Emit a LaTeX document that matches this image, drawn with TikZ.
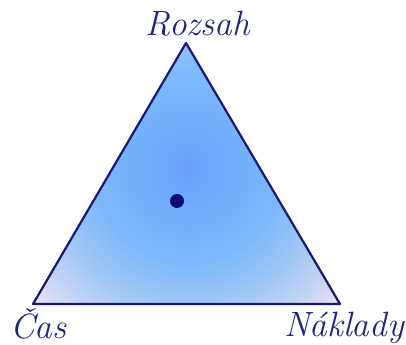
\documentclass[tikz,border=0pt]{standalone}
\usetikzlibrary{positioning, calc}

\definecolor{obrys}{RGB}{25,25,118}
\definecolor{tecka}{RGB}{12,12,112}
\definecolor{popis}{RGB}{35,35,125}
\definecolor{modra0}{RGB}{105,160,250}
\definecolor{modra1}{RGB}{112,172,250}
\definecolor{modra2}{RGB}{126,186,250}
\definecolor{modra3}{RGB}{162,200,245}
\definecolor{okraj}{RGB}{234,226,244}

\pgfdeclareradialshading{trojuhelnik}{\pgfpoint{0bp}{0bp}}{%
  color(0bp)=(modra0); color(4.5bp)=(modra1); color(11bp)=(modra2);
  color(16bp)=(modra3); color(23.5bp)=(okraj); color(50bp)=(okraj)}

\begin{document}
\begin{tikzpicture}[
    label/.style={font=\fontsize{30}{36}\selectfont\itshape, text=popis, inner sep=0pt},
    hrana/.style={draw=obrys, line width=1.9pt, line join=round},
    bod/.style={circle, fill=tecka, inner sep=0pt, minimum size=0.42cm}
]
\useasboundingbox (0,0) rectangle (12.18,10.32);

% vrcholy trojuhelniku
\coordinate (rozsah) at (5.58, 9.03);
\coordinate (cas) at (0.99, 1.20);
\coordinate (naklady) at (10.20, 1.20);

% vypln
\begin{scope}
\clip (rozsah) -- (cas) -- (naklady) -- cycle;
\shade[shading=trojuhelnik] (5.64, 5.28) circle (6.6cm);
\end{scope}
\draw[hrana] (rozsah) -- (cas) -- (naklady) -- cycle;

\node[bod] (stred) at (5.31, 4.29) {};

% popisky
\node[label, anchor=base] (l_rozsah) at (5.94, 9.27) {Rozsah};
\node[label, anchor=base west] (l_cas) at (0.30, 0.16) {Čas};
\node[label, anchor=base east] (l_naklady) at (12.12, 0.24) {Náklady};

\end{tikzpicture}
\end{document}
